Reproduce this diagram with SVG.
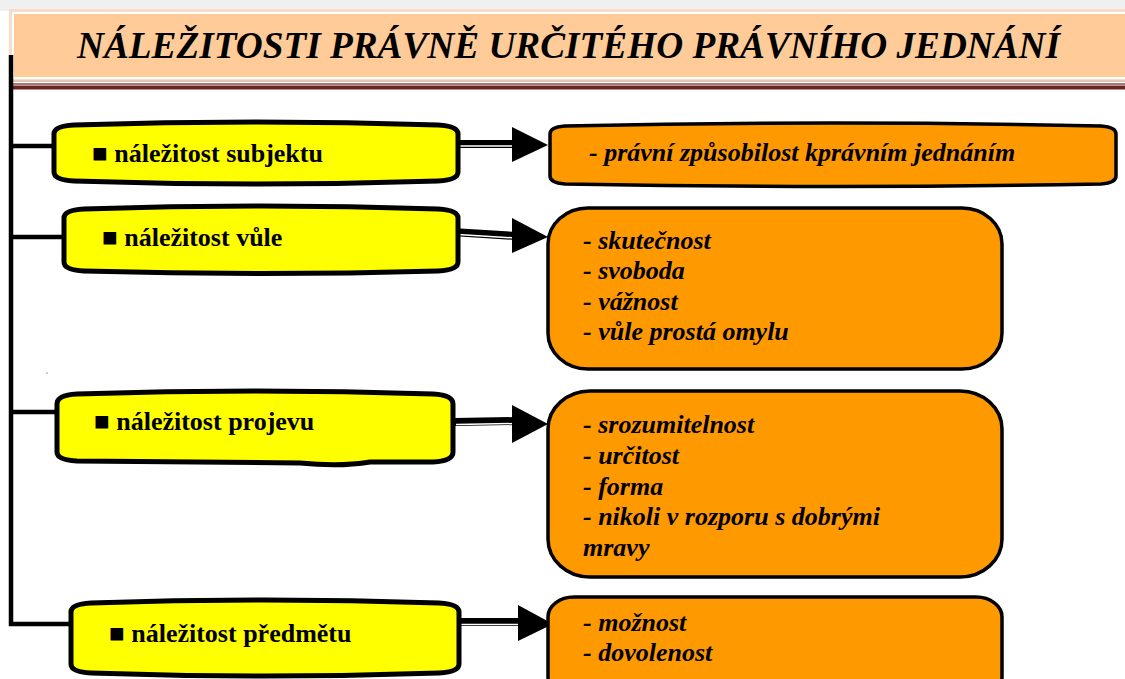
<svg xmlns="http://www.w3.org/2000/svg" width="1125" height="679" viewBox="0 0 1125 679">
<style>
.ybox{fill:#FFFF00;stroke:#000;stroke-width:5;stroke-linejoin:round}
.obox{fill:#FF9900;stroke:#000;stroke-width:3.5;stroke-linejoin:round}
.ytxt{font-family:"Liberation Serif","Times New Roman",serif;font-weight:bold;font-size:26px;fill:#000}
.otxt{font-family:"Liberation Serif","Times New Roman",serif;font-weight:bold;font-style:italic;font-size:26px;fill:#000}
.title{font-family:"Liberation Serif","Times New Roman",serif;font-weight:bold;font-style:italic;font-size:37px;fill:#000}
.bar{stroke:#000;stroke-width:4.5;fill:none}
.shaft{stroke:#000;stroke-width:8;fill:none}
.gap{stroke:#fff;stroke-width:1.5;fill:none}
.head{fill:#000}
</style>
<rect x="0" y="0" width="1125" height="679" fill="#fff"/>
<g id="title">
<rect x="0" y="0" width="1125" height="11" fill="#f0f0f0"/>
<rect x="9" y="9" width="1116" height="73" fill="#f7dcc6"/>
<rect x="12" y="12" width="1113" height="67" fill="#fff"/>
<rect x="14" y="14" width="1111" height="63" fill="#FFCC99"/>
<line x1="12" y1="81" x2="1125" y2="81" stroke="#c9b1a8" stroke-width="1"/>
<line x1="12" y1="84" x2="1125" y2="84" stroke="#8b4a48" stroke-width="1.5"/>
<line x1="12" y1="87.5" x2="1125" y2="87.5" stroke="#6b2422" stroke-width="4"/>
<text class="title" x="77" y="58" textLength="983" lengthAdjust="spacingAndGlyphs">NÁLEŽITOSTI PRÁVNĚ URČITÉHO PRÁVNÍHO JEDNÁNÍ</text>
</g>
<g id="connectors">
<line class="bar" x1="11" y1="55" x2="11" y2="626"/>
<line class="bar" x1="11" y1="146" x2="55" y2="146"/>
<line class="bar" x1="11" y1="237" x2="64" y2="237"/>
<line class="bar" x1="11" y1="412" x2="57" y2="412"/>
<line class="bar" x1="9" y1="624" x2="80" y2="624" stroke-width="5"/>
<line class="shaft" x1="458" y1="144" x2="516" y2="144"/>
<line class="gap" x1="458" y1="146" x2="516" y2="146"/>
<polygon class="head" points="512,127 548,145 512,162"/>
<line class="shaft" x1="452" y1="232" x2="516" y2="236"/>
<line class="gap" x1="458" y1="234.5" x2="516" y2="238"/>
<polygon class="head" points="512,218 548,237 512,253"/>
<line class="shaft" x1="454" y1="422" x2="516" y2="421"/>
<line class="gap" x1="456" y1="424.5" x2="516" y2="423.5"/>
<polygon class="head" points="512,405 548,424 512,443"/>
<line class="shaft" x1="458" y1="622" x2="521" y2="622"/>
<line class="gap" x1="460" y1="624.5" x2="521" y2="624.5"/>
<polygon class="head" points="518,605 553,624 518,641"/>
</g>
<circle cx="47" cy="373" r="0.7" fill="#777"/>
<g id="n1">
<path class="ybox" d="M54,134 Q54,126 74,125 Q256,119 438,125 Q458,126 458,134 L458,172 Q458,180 438,181 Q256,187 74,181 Q54,180 54,172 Z"/>
<text class="ytxt" x="92" y="162">■ náležitost subjektu</text>
</g>
<g id="n2">
<path class="ybox" d="M64,218 Q64,210 84,209 Q261,203 438,209 Q458,210 458,218 L458,262 Q458,270 438,271 Q261,276 84,271 Q64,270 64,262 Z"/>
<text class="ytxt" x="102" y="246">■ náležitost vůle</text>
</g>
<g id="n3">
<path class="ybox" d="M57,404 Q57,395 77,394 Q255,388 433,394 Q453,395 453,404 L453,452 Q453,461 433,462 L370,462 Q340,467 300,463 L77,461 Q57,460 57,452 Z"/>
<text class="ytxt" x="94" y="430">■ náležitost projevu</text>
</g>
<g id="n4">
<path class="ybox" d="M71,612 Q71,604 91,603 Q265,597 439,603 Q459,604 459,612 L459,664 Q459,672 439,673 Q265,679 91,673 Q71,672 71,664 Z"/>
<text class="ytxt" x="109" y="642">■ náležitost předmětu</text>
</g>
<g id="o1">
<path class="obox" d="M550,134 Q550,127 565,126 Q833,120 1101,126 Q1116,127 1116,134 L1116,176 Q1116,183 1101,184 Q833,189 565,184 Q550,183 550,176 Z"/>
<text class="otxt" x="589" y="161">- právní způsobilost kprávním jednáním</text>
</g>
<g id="o2">
<rect class="obox" x="548" y="208" width="454" height="161" rx="40" ry="36"/>
<text class="otxt" x="583" y="249">- skutečnost</text>
<text class="otxt" x="583" y="279">- svoboda</text>
<text class="otxt" x="583" y="310">- vážnost</text>
<text class="otxt" x="583" y="340">- vůle prostá omylu</text>
</g>
<g id="o3">
<rect class="obox" x="548" y="391" width="454" height="186" rx="42" ry="38"/>
<text class="otxt" x="583" y="433">- srozumitelnost</text>
<text class="otxt" x="583" y="464">- určitost</text>
<text class="otxt" x="583" y="495">- forma</text>
<text class="otxt" x="583" y="525">- nikoli v rozporu s dobrými</text>
<text class="otxt" x="583" y="556">mravy</text>
</g>
<g id="o4">
<rect class="obox" x="548" y="597" width="454" height="100" rx="26" ry="20"/>
<text class="otxt" x="583" y="631">- možnost</text>
<text class="otxt" x="583" y="661">- dovolenost</text>
</g>
</svg>
